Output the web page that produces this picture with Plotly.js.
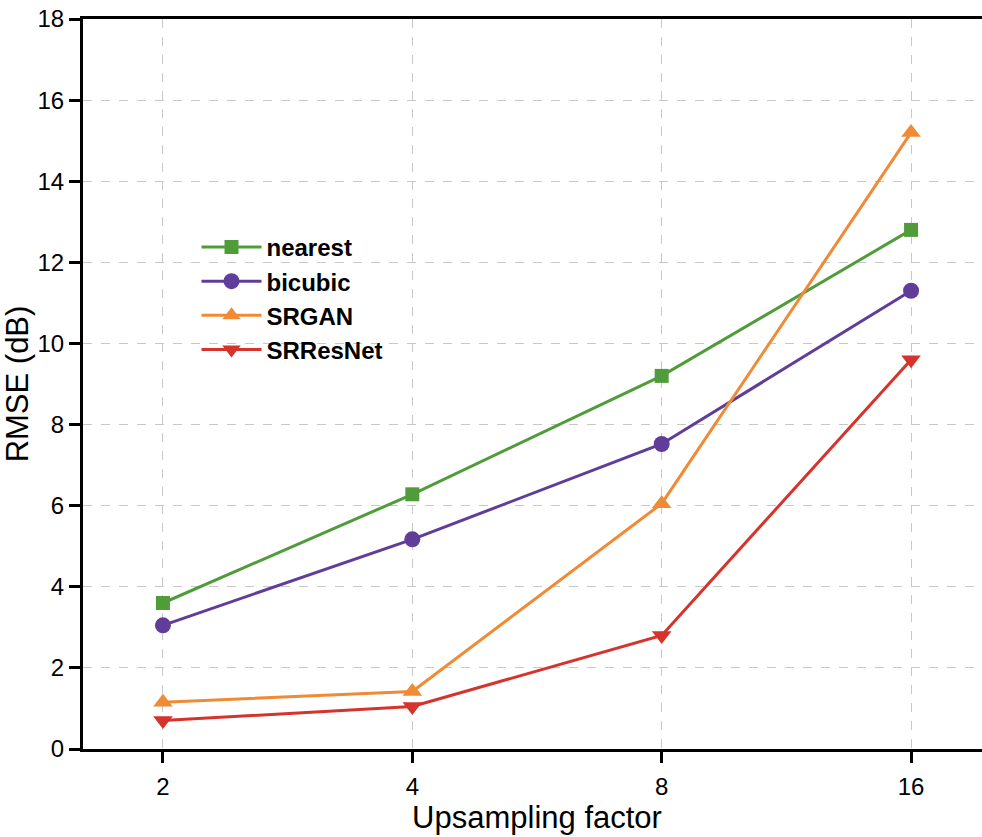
<!DOCTYPE html>
<html><head><meta charset="utf-8">
<script src="https://cdn.plot.ly/plotly-3.0.1.min.js"></script>
<style>html,body{margin:0;padding:0;overflow:hidden;background:#fff;}#chart{width:1000px;height:837px;}</style>
</head><body><div id="chart"></div>
<script>
const factors = ["2", "4", "8", "16"];
const nearest = [3.6, 6.28, 9.2, 12.8];
const bicubic = [3.05, 5.17, 7.52, 11.3];
const srgan = [1.15, 1.42, 6.05, 15.2];
const srresnet = [0.7, 1.05, 2.8, 9.6];
const yTicks = [0, 2, 4, 6, 8, 10, 12, 14, 16, 18];

const idx = factors.map((_, i) => i);
function tr(name, y, color, symbol, size) {
  return {x: idx, y: y, name: name, legendgroup: name, type: 'scatter', mode: 'lines+markers',
    line: {color: color, width: 3}, marker: {color: color, symbol: symbol, size: size}};
}
const data = [
  tr('nearest', nearest, '#509c3b', 'square', 14),
  tr('bicubic', bicubic, '#5f3d99', 'circle', 16),
  tr('SRGAN', srgan, '#f08a34', 'triangle-up', 17),
  tr('SRResNet', srresnet, '#d5332c', 'triangle-down', 17)
];
const layout = {
  width: 1000, height: 837,
  margin: {l: 83, r: 9, t: 19, b: 88},
  paper_bgcolor: '#fff', plot_bgcolor: '#fff',
  font: {family: 'Liberation Sans, Arial, sans-serif', color: '#000'},
  showlegend: true,
  legend: {x: 0.125, y: 0.718, xanchor: 'left', yanchor: 'top', bgcolor: 'rgba(0,0,0,0)',
    itemwidth: 60,
    font: {size: 24, family: 'Liberation Sans, Arial, sans-serif', weight: 'bold'}, tracegroupgap: 0},
  xaxis: {
    range: [-0.3206, 3.3206], tickmode: 'array', tickvals: idx, ticktext: factors,
    showline: true, linecolor: '#000', linewidth: 3, mirror: true,
    ticks: 'outside', ticklen: 11, tickwidth: 3, tickcolor: '#000', ticklabelstandoff: 3,
    tickfont: {size: 24}, showgrid: true, gridcolor: '#c8c8c8', gridwidth: 1, griddash: 'dash',
    zeroline: false,
    title: {text: 'Upsampling factor', font: {size: 31}, standoff: 6}
  },
  yaxis: {
    range: [0, 18], tickmode: 'array', tickvals: yTicks,
    showline: true, linecolor: '#000', linewidth: 3, mirror: true,
    ticks: 'outside', ticklen: 11, tickwidth: 3, tickcolor: '#000',
    tickfont: {size: 24}, showgrid: true, gridcolor: '#c8c8c8', gridwidth: 1, griddash: 'dash',
    zeroline: false,
    title: {text: 'RMSE (dB)', font: {size: 31}, standoff: 2}
  }
};
Plotly.newPlot('chart', data, layout, {displayModeBar: false, staticPlot: true});
</script></body></html>
